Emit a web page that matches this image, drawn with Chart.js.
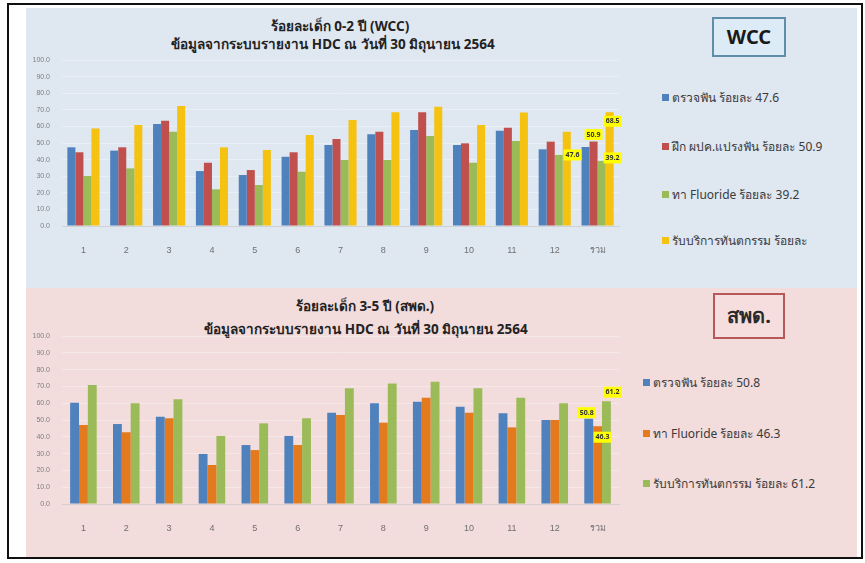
<!DOCTYPE html>
<html>
<head>
<meta charset="utf-8">
<script src="https://cdn.jsdelivr.net/npm/chart.js@4"></script>
<style>
	body { margin: 0; background: #fff; font-family: "Noto Sans", "DejaVu Sans", sans-serif; }
	#frame { position: absolute; left: 7px; top: 3px; width: 852px; height: 552px; border: 2px solid #111; background: #fff; }
	.panel { position: absolute; left: 26px; width: 831px; }
	#panelTop { top: 8px; height: 280px; background: #dfe7f1; }
	#panelBot { top: 288px; height: 269px; background: #f2dcdc; }
	canvas { position: absolute; }
	.title { position: absolute; font-weight: bold; font-size: 13.5px; color: #222; white-space: nowrap; transform: translateX(-50%); }
	.tag { position: absolute; font-weight: bold; font-size: 20px; text-align: center; line-height: 40px; }
	#tagTop { left: 712px; top: 17px; width: 70px; height: 36px; line-height: 36px; border: 2px solid #5f8fa8; background: #dcebf6; color: #1a1a1a; }
	#tagBot { left: 713px; top: 293px; width: 68px; height: 42px; line-height: 42px; border: 2px solid #b8575a; background: #f6dede; color: #2a2a2a; }
	.legend { position: absolute; font-size: 12px; color: #3a3a3a; white-space: nowrap; }
	.legend div { position: absolute; left: 0; white-space: nowrap; }
	.legend span { display: inline-block; width: 7px; height: 7px; margin-right: 3px; vertical-align: 1px; }
</style>
</head>
<body>
<div id="frame"></div>
<div class="panel" id="panelTop"></div>
<div class="panel" id="panelBot"></div>

<div class="title" style="left:340px; top:15px">ร้อยละเด็ก 0-2 ปี (WCC)</div>
<div class="title" style="left:333px; top:33px">ข้อมูลจากระบบรายงาน HDC ณ วันที่ 30 มิถุนายน 2564</div>
<div class="title" style="left:365px; top:295px">ร้อยละเด็ก 3-5 ปี (สพด.)</div>
<div class="title" style="left:366px; top:318px">ข้อมูลจากระบบรายงาน HDC ณ วันที่ 30 มิถุนายน 2564</div>

<div class="tag" id="tagTop">WCC</div>
<div class="tag" id="tagBot">สพด.</div>

<div class="legend" id="legendTop" style="left:662px; top:0px"></div>
<div class="legend" id="legendBot" style="left:643px; top:0px"></div>

<canvas id="chartTop" width="600" height="277" style="left:26px; top:8px"></canvas>
<canvas id="chartBot" width="600" height="269" style="left:26px; top:288px"></canvas>

<script>
// หมวด (อำเภอ 1-12 + รวม)
const categories = ["1", "2", "3", "4", "5", "6", "7", "8", "9", "10", "11", "12", "รวม"]

// เด็ก 0-2 ปี (WCC)
const wccExam = [47.4, 45.4, 61.4, 33.1, 30.7, 41.7, 48.8, 55.2, 57.8, 48.8, 57.4, 46.2, 47.6]
const wccBrush = [44.4, 47.4, 63.4, 38.1, 33.7, 44.4, 52.4, 56.8, 68.5, 49.8, 59.2, 50.8, 50.9]
const wccFluoride = [30.1, 34.7, 56.8, 22.1, 24.7, 32.7, 39.8, 39.8, 54.2, 38.1, 51.2, 42.8, 39.2]
const wccService = [58.8, 60.8, 72.3, 47.4, 45.8, 54.8, 63.9, 68.5, 71.9, 60.8, 68.3, 56.8, 68.5]
const wccNames = ["ตรวจฟัน ร้อยละ 47.6", "ฝึก ผปค.แปรงฟัน ร้อยละ 50.9", "ทา Fluoride ร้อยละ 39.2", "รับบริการทันตกรรม ร้อยละ"]

// เด็ก 3-5 ปี (สพด.)
const spdExam = [60.3, 47.6, 52.0, 29.8, 35.1, 40.5, 54.3, 59.9, 60.9, 57.9, 54.0, 50.0, 50.8]
const spdFluoride = [47.0, 42.7, 51.0, 23.2, 32.1, 35.1, 53.0, 48.4, 63.3, 54.3, 45.6, 50.0, 46.3]
const spdService = [70.8, 59.9, 62.3, 40.5, 48.0, 51.0, 68.9, 71.8, 72.8, 68.9, 63.3, 59.9, 61.2]
const spdNames = ["ตรวจฟัน ร้อยละ 50.8", "ทา Fluoride ร้อยละ 46.3", "รับบริการทันตกรรม ร้อยละ 61.2"]

const yTicks = [0, 10, 20, 30, 40, 50, 60, 70, 80, 90, 100]

var coresTop = ["#4f81bd", "#c0504d", "#9bbb59", "#f5c211"]
var coresBot = ["#4f81bd", "#e47a1e", "#9bbb59"]

// ป้ายเหลืองของกลุ่ม "รวม" (ตำแหน่งเลื่อนจากยอดแท่ง)
var tagsTop = [
	{ ds: 0, dx: -13, dy: 8 },
	{ ds: 1, dx: 0, dy: -7 },
	{ ds: 2, dx: 11, dy: -3 },
	{ ds: 3, dx: 3, dy: 9 },
]
var tagsBot = [
	{ ds: 0, dx: -2, dy: -6 },
	{ ds: 1, dx: 5, dy: 11 },
	{ ds: 2, dx: 6, dy: -9 },
]

const yellowTags = {
	id: "yellowTags",
	afterDatasetsDraw(chart, args, opts) {
		const ctx = chart.ctx
		const idx = chart.data.labels.length - 1
		ctx.save()
		ctx.font = "bold 7px 'Noto Sans', sans-serif"
		ctx.textAlign = "center"
		ctx.textBaseline = "middle"
		for (const t of opts.tags) {
			const bar = chart.getDatasetMeta(t.ds).data[idx]
			const txt = chart.data.datasets[t.ds].data[idx].toFixed(1)
			const x = bar.x + t.dx
			const y = bar.y + t.dy
			ctx.fillStyle = "#ffff00"
			ctx.fillRect(x - 9, y - 5.5, 18, 11)
			ctx.fillStyle = "#333"
			ctx.fillText(txt, x, y)
		}
		ctx.restore()
	},
}

function montaLegenda(id, nomes, cores, ys) {
	const el = document.getElementById(id)
	nomes.forEach((n, i) => {
		const d = document.createElement("div")
		d.style.top = ys[i] - 9 + "px"
		d.innerHTML = `<span style="background:${cores[i]}"></span>${n}`
		el.appendChild(d)
	})
}

montaLegenda("legendTop", wccNames, coresTop, [97, 146, 194, 240])
montaLegenda("legendBot", spdNames, coresBot, [382, 433, 483])

function fazGrafico(id, series, nomes, cores, catPct, padTop, xHeight, tags) {
	const dataSet = series.map((s, i) => ({
		label: nomes[i],
		data: s,
		backgroundColor: cores[i],
		borderWidth: 0,
		barPercentage: 1,
		categoryPercentage: catPct,
	}))
	return new Chart(document.getElementById(id), {
		type: "bar",
		data: { labels: categories, datasets: dataSet },
		options: {
			responsive: false,
			animation: false,
			layout: { padding: { top: padTop, right: 7, left: 0, bottom: 0 } },
			plugins: {
				legend: { display: false },
				tooltip: { enabled: false },
				yellowTags: { tags: tags },
			},
			scales: {
				x: {
					grid: { display: false },
					border: { color: "rgba(190,190,190,0.6)" },
					ticks: { color: "#6f6f6f", font: { size: 9 }, padding: 11 },
					afterFit: (s) => { s.height = xHeight },
				},
				y: {
					min: 0,
					max: 100,
					afterBuildTicks: (s) => { s.ticks = yTicks.map((v) => ({ value: v })) },
					grid: { color: "rgba(255,255,255,0.35)", drawTicks: false },
					border: { display: false },
					ticks: {
						color: "#7f7f7f",
						font: { size: 7 },
						padding: 12,
						callback: (v) => v.toFixed(1),
					},
					afterFit: (s) => { s.width = 36 },
				},
			},
		},
		plugins: [yellowTags],
	})
}

fazGrafico("chartTop", [wccExam, wccBrush, wccFluoride, wccService], wccNames, coresTop, 0.75, 52, 59, tagsTop)
fazGrafico("chartBot", [spdExam, spdFluoride, spdService], spdNames, coresBot, 0.62, 48, 53, tagsBot)
</script>
</body>
</html>
